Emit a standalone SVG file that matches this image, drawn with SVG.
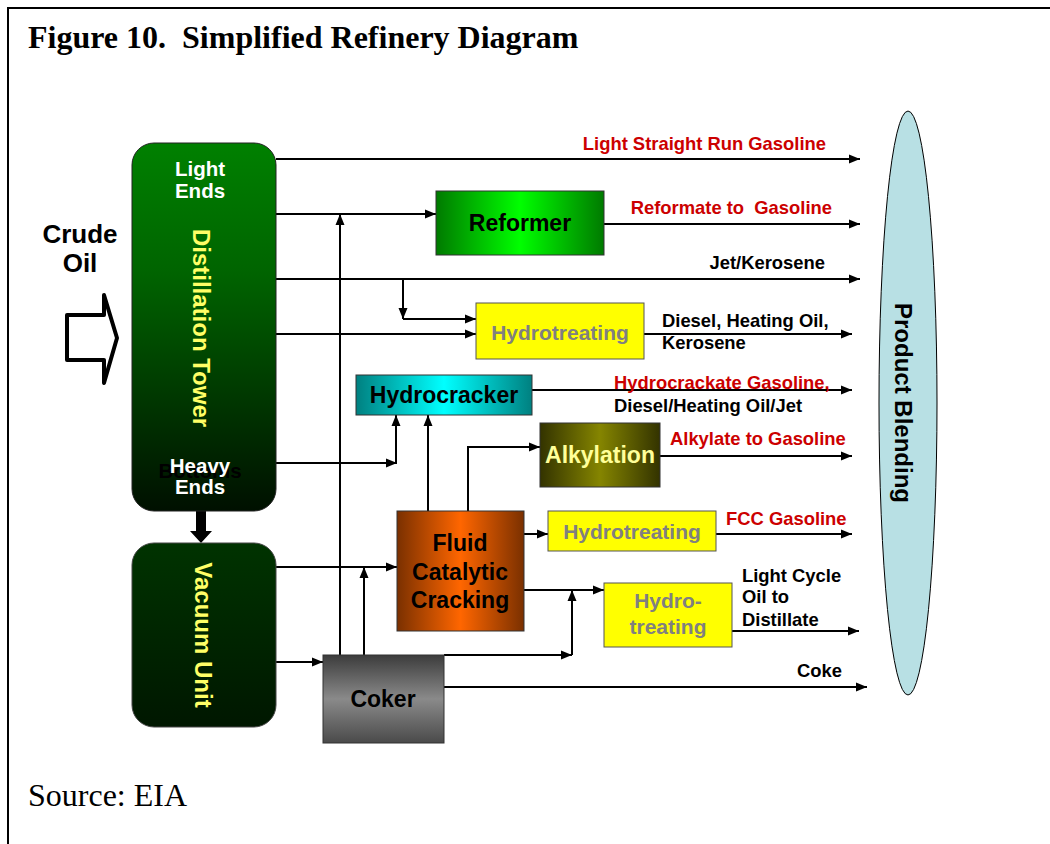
<svg xmlns="http://www.w3.org/2000/svg" width="1050" height="844" viewBox="0 0 1050 844">
<style>
.lbl{font-family:"Liberation Sans",Arial,sans-serif;font-weight:bold;font-size:18.4px}
.red{fill:#cc0000}
.blk{fill:#000}
.box{font-family:"Liberation Sans",Arial,sans-serif;font-weight:bold;font-size:23px;text-anchor:middle}
.crude{font-family:"Liberation Sans",Arial,sans-serif;font-weight:bold;font-size:26px;text-anchor:middle}
.ht{font-family:"Liberation Sans",Arial,sans-serif;font-weight:bold;font-size:21px;text-anchor:middle;fill:#808080}
.vt{font-family:"Liberation Sans",Arial,sans-serif;font-weight:bold;font-size:24px;text-anchor:middle}
.wt{font-family:"Liberation Sans",Arial,sans-serif;font-weight:bold;font-size:20.5px;text-anchor:middle;fill:#fff}
.ln{stroke:#000;stroke-width:2;fill:none}
.arr{marker-end:url(#ah)}
</style>
<defs>
<marker id="ah" markerUnits="userSpaceOnUse" markerWidth="12" markerHeight="10" refX="11" refY="5" orient="auto">
<path d="M0,0.5 L11,5 L0,9.5 z" fill="#000"/>
</marker>
<linearGradient id="towerG" x1="0" y1="0" x2="0" y2="1">
<stop offset="0" stop-color="#008000"/><stop offset="0.35" stop-color="#006400"/><stop offset="0.75" stop-color="#003000"/><stop offset="1" stop-color="#001000"/>
</linearGradient>
<linearGradient id="vacG" x1="0" y1="0" x2="0" y2="1">
<stop offset="0" stop-color="#003300"/><stop offset="1" stop-color="#001700"/>
</linearGradient>
<linearGradient id="refG" x1="0" y1="0" x2="1" y2="0">
<stop offset="0" stop-color="#007a00"/><stop offset="0.5" stop-color="#00ff00"/><stop offset="1" stop-color="#007a00"/>
</linearGradient>
<linearGradient id="hcG" x1="0" y1="0" x2="1" y2="0">
<stop offset="0" stop-color="#008080"/><stop offset="0.5" stop-color="#00ffff"/><stop offset="1" stop-color="#008080"/>
</linearGradient>
<linearGradient id="fccG" x1="0" y1="0" x2="1" y2="0">
<stop offset="0" stop-color="#7a3000"/><stop offset="0.5" stop-color="#ff6600"/><stop offset="1" stop-color="#7a3000"/>
</linearGradient>
<linearGradient id="alkG" x1="0" y1="0" x2="1" y2="0">
<stop offset="0" stop-color="#333300"/><stop offset="0.5" stop-color="#858500"/><stop offset="1" stop-color="#333300"/>
</linearGradient>
<linearGradient id="cokG" x1="0" y1="0" x2="0" y2="1">
<stop offset="0" stop-color="#3c3c3c"/><stop offset="0.5" stop-color="#8a8a8a"/><stop offset="1" stop-color="#4a4a4a"/>
</linearGradient>
</defs>
<rect width="1050" height="844" fill="#fff"/>
<path d="M8,844 V8 H1050" stroke="#000" stroke-width="2" fill="none"/>
<text x="28" y="48" font-family="Liberation Serif,'Times New Roman',serif" font-weight="bold" font-size="32" xml:space="preserve" style="white-space:pre">Figure 10.  Simplified Refinery Diagram</text>
<text x="28" y="806" font-family="Liberation Serif,'Times New Roman',serif" font-size="32">Source: EIA</text>

<g id="crude">
<text x="80" y="243" class="crude">Crude</text>
<text x="80" y="272" class="crude">Oil</text>
<polygon points="67,315 104,315 104,295 117,338 104,383 104,360 67,360" fill="#fff" stroke="#000" stroke-width="4" stroke-linejoin="round"/>
</g>

<g id="connectors">
<path class="ln arr" d="M276,159 H860"/>
<path class="ln arr" d="M276,214 H436"/>
<path class="ln arr" d="M340,655 V214"/>
<path class="ln arr" d="M276,279 H860"/>
<path class="ln arr" d="M403,279 V319"/>
<path class="ln arr" d="M403,319 H476"/>
<path class="ln arr" d="M276,334 H476"/>
<path class="ln arr" d="M604,224 H860"/>
<path class="ln arr" d="M644,334 H852"/>
<path class="ln arr" d="M276,463 H397"/>
<path class="ln arr" d="M396,463 V415"/>
<path class="ln arr" d="M532,390 H852"/>
<path class="ln arr" d="M428,511 V415"/>
<path class="ln arr" d="M468,511 V447 H540" stroke-width="1.3"/>
<path class="ln arr" d="M660,456 H852"/>
<path class="ln arr" d="M524,534 H548"/>
<path class="ln arr" d="M716,534 H852"/>
<path class="ln arr" d="M524,590 H604"/>
<path class="ln arr" d="M444,655 H572"/>
<path class="ln arr" d="M572,655 V590"/>
<path class="ln arr" d="M732,631 H859"/>
<path class="ln arr" d="M444,687 H867"/>
<path class="ln arr" d="M276,567 H397"/>
<path class="ln arr" d="M364,655 V567"/>
<path class="ln arr" d="M276,662 H323"/>
<path d="M196,511 V531 H190 L201,543 L212,531 H206 V511 z" fill="#000"/>
</g>

<g id="labels">
<text class="lbl red" x="826" y="150" text-anchor="end">Light Straight Run Gasoline</text>
<text class="lbl red" x="832" y="214" text-anchor="end" xml:space="preserve" style="white-space:pre">Reformate to  Gasoline</text>
<text class="lbl blk" x="825" y="269" text-anchor="end">Jet/Kerosene</text>
<text class="lbl blk" x="662" y="327">Diesel, Heating Oil,</text>
<text class="lbl blk" x="662" y="349">Kerosene</text>
<text class="lbl red" x="614" y="389">Hydrocrackate Gasoline,</text>
<text class="lbl blk" x="614" y="412">Diesel/Heating Oil/Jet</text>
<text class="lbl red" x="670" y="445">Alkylate to Gasoline</text>
<text class="lbl red" x="726" y="525">FCC Gasoline</text>
<text class="lbl blk" x="742" y="582">Light Cycle</text>
<text class="lbl blk" x="742" y="603">Oil to</text>
<text class="lbl blk" x="742" y="626">Distillate</text>
<text class="lbl blk" x="842" y="677" text-anchor="end">Coke</text>
</g>

<g id="tower">
<rect x="132" y="143" width="144" height="368" rx="22" fill="url(#towerG)" stroke="#222" stroke-width="1"/>
<text class="wt" x="200" y="176">Light</text>
<text class="wt" x="200" y="198">Ends</text>
<text class="vt" transform="translate(193,328) rotate(90)" fill="#ffff66">Distillation Tower</text>
<text class="wt" x="200" y="478" style="fill:#000">Bottoms</text>
<text class="wt" x="200" y="473">Heavy</text>
<text class="wt" x="200" y="494">Ends</text>
</g>

<g id="vacuum">
<rect x="132" y="543" width="144" height="184" rx="22" fill="url(#vacG)" stroke="#444" stroke-width="1"/>
<text class="vt" transform="translate(195,635) rotate(90)" fill="#ffff66">Vacuum Unit</text>
</g>

<g id="reformer">
<rect x="436" y="191" width="168" height="64" fill="url(#refG)" stroke="#333" stroke-width="1"/>
<text class="box" x="520" y="231">Reformer</text>
</g>

<g id="hydrotreating1">
<rect x="476" y="303" width="168" height="56" fill="#ffff00" stroke="#555" stroke-width="1"/>
<text class="ht" x="560" y="340">Hydrotreating</text>
</g>

<g id="hydrocracker">
<rect x="356" y="375" width="176" height="40" fill="url(#hcG)" stroke="#333" stroke-width="1"/>
<text class="box" x="444" y="403">Hydrocracker</text>
</g>

<g id="alkylation">
<rect x="540" y="423" width="120" height="64" fill="url(#alkG)" stroke="#333" stroke-width="1"/>
<text class="box" x="600" y="463" fill="#ffff99">Alkylation</text>
</g>

<g id="fcc">
<rect x="397" y="511" width="127" height="120" fill="url(#fccG)" stroke="#333" stroke-width="1"/>
<text class="box" x="460" y="551">Fluid</text>
<text class="box" x="460" y="580">Catalytic</text>
<text class="box" x="460" y="608">Cracking</text>
</g>

<g id="hydrotreating2">
<rect x="548" y="511" width="168" height="40" fill="#ffff00" stroke="#555" stroke-width="1"/>
<text class="ht" x="632" y="539">Hydrotreating</text>
</g>

<g id="hydrotreating3">
<rect x="604" y="583" width="128" height="64" fill="#ffff00" stroke="#555" stroke-width="1"/>
<text class="ht" x="668" y="608">Hydro-</text>
<text class="ht" x="668" y="634">treating</text>
</g>

<g id="coker">
<rect x="323" y="655" width="121" height="88" fill="url(#cokG)" stroke="#333" stroke-width="1"/>
<text class="box" x="383" y="707">Coker</text>
</g>

<g id="blending">
<ellipse cx="908" cy="403" rx="29" ry="292" fill="#b8e0e4" stroke="#000" stroke-width="1"/>
<text class="vt" transform="translate(895,403) rotate(90)" fill="#000">Product Blending</text>
</g>
</svg>
